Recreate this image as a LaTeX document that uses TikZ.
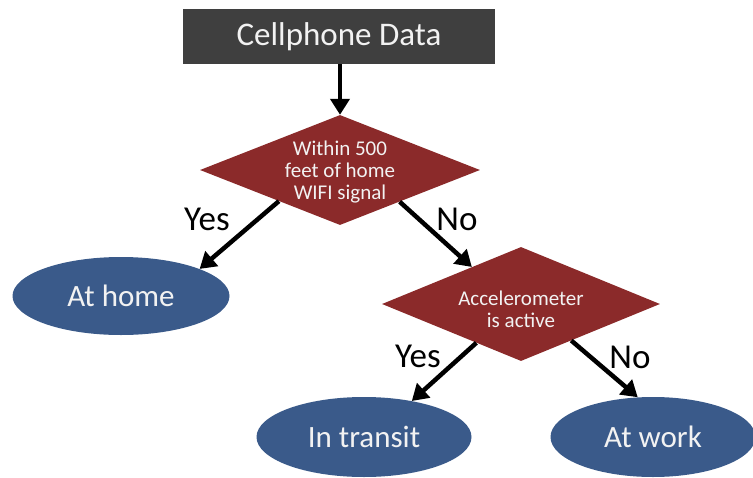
\documentclass[tikz,border=0pt]{standalone}
\usepackage{fontspec}
\setmainfont{Carlito}
\usetikzlibrary{shapes.geometric,arrows.meta}
\definecolor{boxgray}{HTML}{3F3F3F}
\definecolor{decred}{HTML}{8B2A2A}
\definecolor{endblue}{HTML}{3A5A8A}
\definecolor{txtw}{HTML}{F2F2F2}
\tikzset{
  startbox/.style={fill=boxgray, text=txtw, minimum width=312pt, minimum height=55pt, inner sep=0pt, font=\fontsize{33}{38}\selectfont},
  decision/.style={diamond, fill=decred, inner sep=0pt},
  dectext/.style={text=txtw, inner sep=0pt, align=center, font=\fontsize{21}{22}\selectfont},
  outcome/.style={ellipse, fill=endblue, text=txtw, inner sep=0pt, minimum height=80pt, font=\fontsize{31}{36}\selectfont},
  flow/.style={line width=4.5pt, draw=black, -{Triangle[length=16pt,width=19pt]}},
  answer/.style={font=\fontsize{35}{40}\selectfont, text=black}
}
\begin{document}
\begin{tikzpicture}[x=1pt,y=-1pt]
\useasboundingbox (0,0) rectangle (753,477);
\node[startbox] (top) at (339,36.5) {Cellphone Data};
\node[decision, minimum width=280pt, minimum height=110pt] (d1) at (340,170) {};
\node[dectext] (d1t) at (340,172) {Within 500\\feet of home\\WIFI signal};
\node[outcome, minimum width=217pt, minimum height=78pt] (home) at (121,296) {At home};
\node[decision, minimum width=278pt, minimum height=114pt] (d2) at (521,304) {};
\node[dectext] (d2t) at (521,309) {Accelerometer\\is active};
\node[outcome, minimum width=215pt] (transit) at (364,437) {In transit};
\node[outcome, minimum width=205pt] (work) at (653,437) {At work};
\draw[flow] (top.south -| d1.north) -- (d1.north);
\draw[flow] (d1.207) -- (home.19.5);
\draw[flow] (d1.332) -- (d2.143.7);
\draw[flow] (d2.221.6) -- (transit.37.6);
\draw[flow] (d2.324.9) -- (work.111);
\node[answer] (yes1) at (207,219) {Yes};
\node[answer] (no1) at (457,219) {No};
\node[answer] (yes2) at (418,356) {Yes};
\node[answer] (no2) at (630,357) {No};
\end{tikzpicture}
\end{document}
